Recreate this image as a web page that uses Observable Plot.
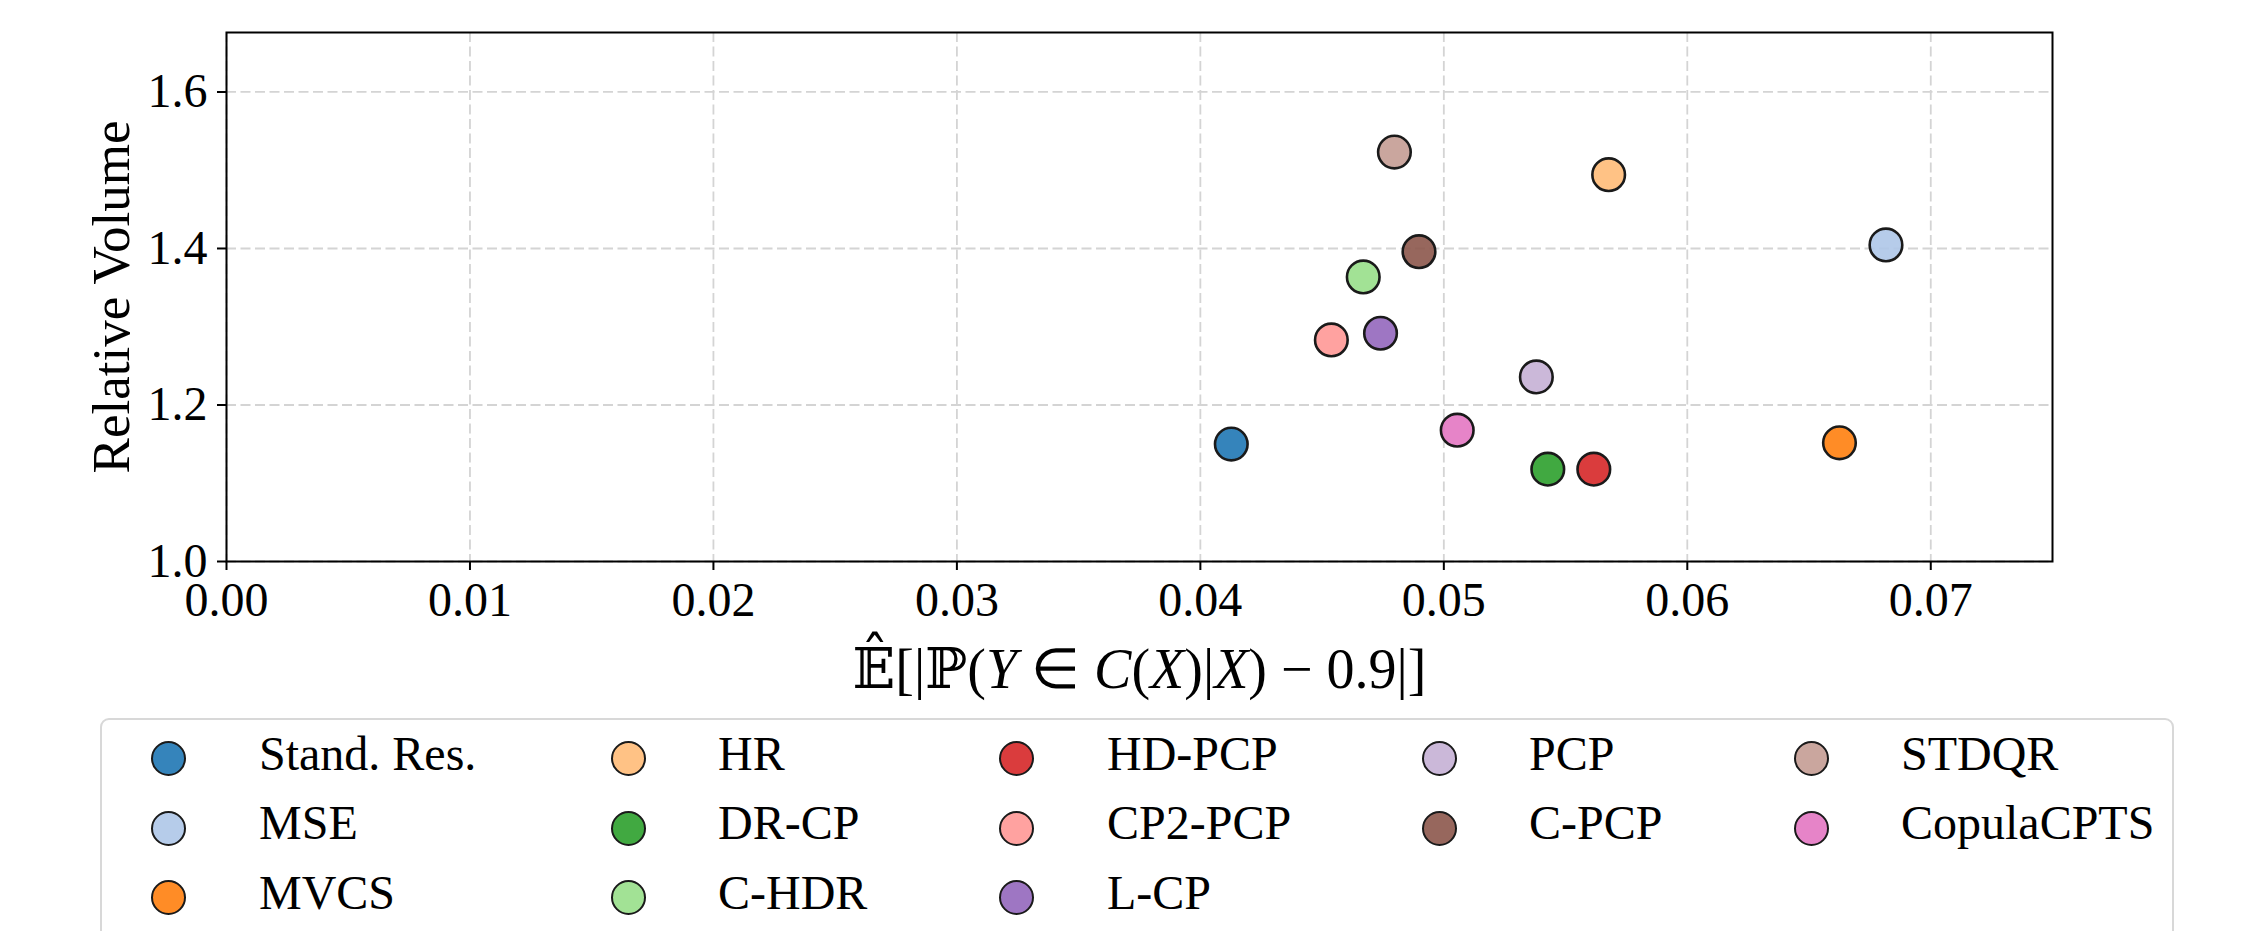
<!DOCTYPE html>
<html>
<head>
<meta charset="utf-8">
<script src="https://cdn.jsdelivr.net/npm/d3@7"></script>
<script src="https://cdn.jsdelivr.net/npm/@observablehq/plot@0.6"></script>
<style>
  html, body { margin: 0; padding: 0; background: #fff; overflow: hidden; }
  #wrap { position: relative; width: 2266px; height: 931px; }
  #legend { position: absolute; left: 100px; top: 718px; width: 2074px; height: 240px;
            border: 2px solid #d8d8d8; border-radius: 9px; box-sizing: border-box; background: #fff; }
  .lg-item { position: absolute; height: 0; }
  .lg-mark { position: absolute; width: 31px; height: 31px; border-radius: 50%;
             border: 2.5px solid #1a1a1a; box-sizing: content-box; }
  .lg-text { position: absolute; font-family: "Liberation Serif", serif; font-size: 48px;
             line-height: 1; white-space: nowrap; color: #000; }
</style>
</head>
<body>
<div id="wrap"></div>
<script>
// ---- data ----
const names = ["Stand. Res.", "MSE", "MVCS", "HR", "DR-CP", "C-HDR", "HD-PCP", "CP2-PCP", "L-CP", "PCP", "C-PCP", "STDQR", "CopulaCPTS"];
const conditionalCoverageError = [0.04127, 0.06816, 0.06625, 0.05677, 0.05427, 0.04669, 0.05616, 0.04538, 0.04740, 0.05380, 0.04898, 0.04797, 0.05055];
const relativeVolume = [1.150, 1.4045, 1.1516, 1.4943, 1.118, 1.3636, 1.118, 1.2831, 1.2917, 1.2359, 1.3959, 1.5232, 1.1678];
const colors = ["#1f77b4", "#aec7e8", "#ff7f0e", "#ffbb78", "#2ca02c", "#98df8a", "#d62728", "#ff9896", "#9467bd", "#c5b0d5", "#8c564b", "#c49c94", "#e377c2"];
const xTicks = [0, 0.01, 0.02, 0.03, 0.04, 0.05, 0.06, 0.07];
const yTicks = [1.0, 1.2, 1.4, 1.6];
const xLabel = "𝔼̂[|ℙ(Y ∈ C(X)|X) − 0.9|]";
const yLabel = "Relative Volume";

const data = names.map((n, i) => ({name: n, x: conditionalCoverageError[i], y: relativeVolume[i], color: colors[i]}));

const W = 2266, H = 712;
const chart = Plot.plot({
  width: W, height: H,
  marginLeft: 226, marginRight: 214, marginTop: 32, marginBottom: H - 561,
  style: {fontFamily: "Liberation Serif, serif", background: "white", overflow: "visible"},
  x: {domain: [0, 0.075]},
  y: {domain: [1.0, 1.676]},
  marks: [
    Plot.gridX(xTicks, {stroke: "#d4d4d4", strokeOpacity: 1, strokeWidth: 1.8, strokeDasharray: "10,4.5"}),
    Plot.gridY(yTicks, {stroke: "#d4d4d4", strokeOpacity: 1, strokeWidth: 1.8, strokeDasharray: "10,4.5"}),
    Plot.dot(data, {x: "x", y: "y", r: 16.3, fill: "color", fillOpacity: 0.9, stroke: "#1a1a1a", strokeWidth: 2.6}),
    Plot.frame({stroke: "black", strokeWidth: 2}),
    Plot.axisX({ticks: xTicks, tickFormat: d3.format(".2f"), tickSize: 9, tickPadding: 11, fontSize: 48, strokeWidth: 2, label: null, stroke: "black", fill: "black"}),
    Plot.axisY({ticks: yTicks, tickFormat: d3.format(".1f"), tickSize: 9, tickPadding: 10, fontSize: 48, strokeWidth: 2, label: null, stroke: "black", fill: "black"}),
    Plot.text([xLabel], {frameAnchor: "bottom", dy: 126, lineAnchor: "bottom", textAnchor: "middle", fontSize: 56, fill: "black"}),
    Plot.text([yLabel], {frameAnchor: "left", dx: -98, rotate: -90, lineAnchor: "bottom", textAnchor: "middle", fontSize: 53, fill: "black"})
  ]
});

// Style the x label with italic math variables
d3.select(chart).selectAll("text").each(function() {
  if (this.textContent === xLabel) {
    const t = d3.select(this);
    t.text(null);
    const parts = [
      ["𝔼̂", "dj"], ["[|", ""], ["ℙ", "dj"], ["(", ""], ["Y", "i"], [" ∈ ", "dj2"],
      ["C", "i"], ["(", ""], ["X", "i"], [")|", ""], ["X", "i"], [") − 0.9|]", ""]
    ];
    for (const [s, k] of parts) {
      const ts = t.append("tspan").text(s);
      if (k === "i") ts.attr("font-style", "italic");
      if (k === "dj") ts.attr("font-family", "DejaVu Serif, DejaVu Sans");
    }
  }
});

const wrap = document.getElementById("wrap");
wrap.appendChild(chart);
chart.style.position = "absolute"; chart.style.left = "0px"; chart.style.top = "0px";

// ---- legend (HTML, below the chart) ----
const legend = document.createElement("div");
legend.id = "legend";
wrap.appendChild(legend);
const colMarkX = [169, 629, 1017, 1440, 1812];
const colTextX = [259, 718, 1107, 1529, 1901];
const rowY = [759.3, 829, 898.3];
const perCol = [3, 3, 3, 2, 2];
let idx = 0;
const lx = 100 + 2, ly = 718 + 2; // inner origin of legend box
perCol.forEach((n, c) => {
  for (let r = 0; r < n; r++, idx++) {
    const m = document.createElement("div");
    m.className = "lg-mark";
    m.style.background = d3.color(colors[idx]).copy({opacity: 0.9}).formatRgb();
    m.style.left = (colMarkX[c] - 18 - lx) + "px";
    m.style.top = (rowY[r] - 18 - ly) + "px";
    legend.appendChild(m);
    const s = document.createElement("div");
    s.className = "lg-text";
    s.textContent = names[idx];
    s.style.left = (colTextX[c] - lx) + "px";
    // baseline ≈ center + 13; line-height 1 → baseline ≈ top + 0.89em
    s.style.top = (rowY[r] + 13 - 0.891 * 48 - ly) + "px";
    legend.appendChild(s);
  }
});
</script>
</body>
</html>
